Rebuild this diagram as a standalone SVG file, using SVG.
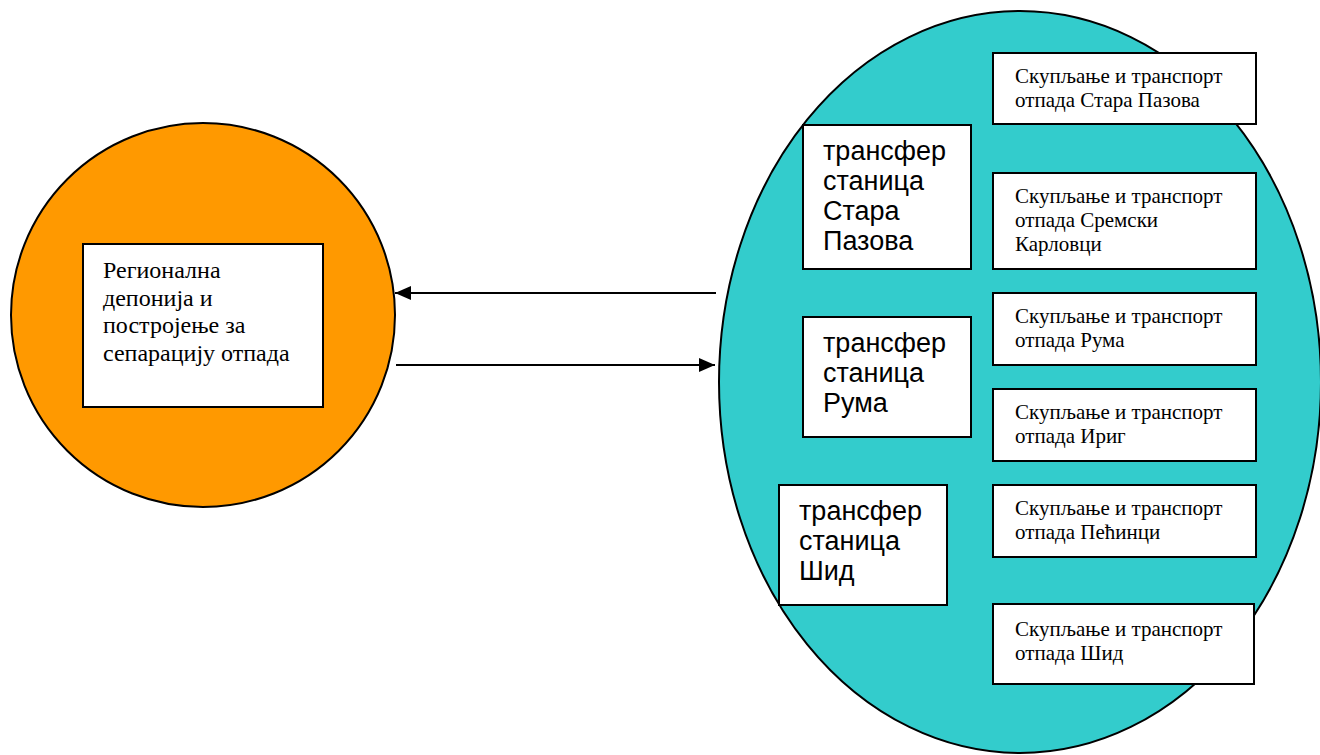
<svg xmlns="http://www.w3.org/2000/svg" width="1320" height="755" viewBox="0 0 1320 755">
<style>
.box{fill:#fff;stroke:#000;stroke-width:2}
.serif{font-family:"Liberation Serif","Times New Roman",serif;font-size:21px;fill:#000}
.serif-l{font-family:"Liberation Serif","Times New Roman",serif;font-size:24px;fill:#000}
.sans{font-family:"Liberation Sans",Arial,sans-serif;font-size:27px;fill:#000}
.conn{stroke:#000;stroke-width:2;fill:none}
</style>
<defs>
<marker id="ah" markerWidth="16" markerHeight="14" refX="16" refY="7" orient="auto" markerUnits="userSpaceOnUse">
<path d="M0,0 L16,7 L0,14 Z" fill="#000"/>
</marker>
</defs>
<rect width="1320" height="755" fill="#fff"/>
<g id="region-left">
<circle cx="203" cy="315" r="192" fill="#ff9900" stroke="#000" stroke-width="2"/>
</g>
<g id="region-right">
<ellipse cx="1020" cy="382" rx="301" ry="371" fill="#33cccc" stroke="#000" stroke-width="2"/>
</g>
<g id="connectors">
<line class="conn" x1="716" y1="293" x2="395" y2="293" marker-end="url(#ah)"/>
<line class="conn" x1="396" y1="365" x2="715" y2="365" marker-end="url(#ah)"/>
</g>
<g id="node-regional">
<rect class="box" x="83" y="244" width="240" height="163"/>
<text class="serif-l"><tspan x="103" y="278">Регионална</tspan><tspan x="103" y="305.5">депонија и</tspan><tspan x="103" y="333">постројење за</tspan><tspan x="103" y="360.5">сепарацију отпада</tspan></text>
</g>
<g id="node-ts-stara-pazova">
<rect class="box" x="803" y="125" width="168" height="144"/>
<text class="sans"><tspan x="823" y="160">трансфер</tspan><tspan x="823" y="190">станица</tspan><tspan x="823" y="220">Стара</tspan><tspan x="823" y="250">Пазова</tspan></text>
</g>
<g id="node-ts-ruma">
<rect class="box" x="803" y="317" width="168" height="120"/>
<text class="sans"><tspan x="823" y="352">трансфер</tspan><tspan x="823" y="382">станица</tspan><tspan x="823" y="412">Рума</tspan></text>
</g>
<g id="node-ts-sid">
<rect class="box" x="779" y="485" width="168" height="120"/>
<text class="sans"><tspan x="799" y="520">трансфер</tspan><tspan x="799" y="550">станица</tspan><tspan x="799" y="580">Шид</tspan></text>
</g>
<g id="node-c-stara-pazova">
<rect class="box" x="993" y="53" width="263" height="71"/>
<text class="serif"><tspan x="1015" y="83">Скупљање и транспорт</tspan><tspan x="1015" y="107">отпада Стара Пазова</tspan></text>
</g>
<g id="node-c-sremski-karlovci">
<rect class="box" x="993" y="173" width="263" height="96"/>
<text class="serif"><tspan x="1015" y="203">Скупљање и транспорт</tspan><tspan x="1015" y="227">отпада Сремски</tspan><tspan x="1015" y="251">Карловци</tspan></text>
</g>
<g id="node-c-ruma">
<rect class="box" x="993" y="293" width="263" height="72"/>
<text class="serif"><tspan x="1015" y="323">Скупљање и транспорт</tspan><tspan x="1015" y="347">отпада Рума</tspan></text>
</g>
<g id="node-c-irig">
<rect class="box" x="993" y="389" width="263" height="72"/>
<text class="serif"><tspan x="1015" y="419">Скупљање и транспорт</tspan><tspan x="1015" y="443">отпада Ириг</tspan></text>
</g>
<g id="node-c-pecinci">
<rect class="box" x="993" y="485" width="263" height="72"/>
<text class="serif"><tspan x="1015" y="515">Скупљање и транспорт</tspan><tspan x="1015" y="539">отпада Пећинци</tspan></text>
</g>
<g id="node-c-sid">
<rect class="box" x="993" y="604" width="261" height="80"/>
<text class="serif"><tspan x="1015" y="636">Скупљање и транспорт</tspan><tspan x="1015" y="660">отпада Шид</tspan></text>
</g>
</svg>
